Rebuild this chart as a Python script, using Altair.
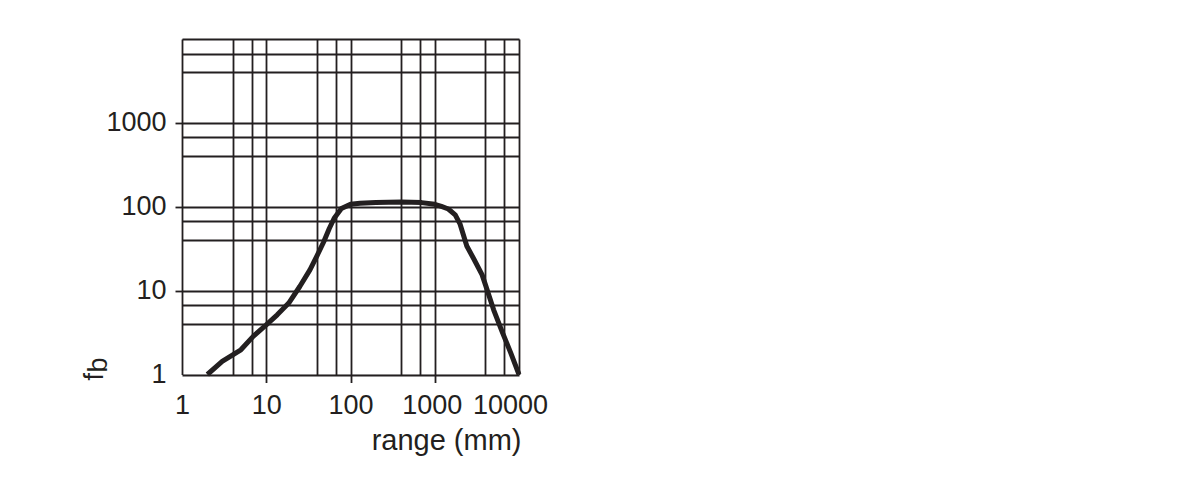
import altair as alt
import pandas as pd

# curve
range_mm = [2, 3, 5, 7, 10, 13.5, 18.5, 25, 33, 40, 48, 56, 64, 78, 100, 130, 200, 400,
            700, 1000, 1200, 1450, 1750, 2000, 2400, 2900, 3650, 4000, 5000, 6300, 8000, 10000]
fb = [1, 1.43, 1.97, 2.85, 3.9, 5.15, 7.1, 11.2, 17.7, 26, 38, 55, 73, 95, 107, 110, 112, 114,
      112, 107, 101, 94, 80, 62, 34, 24, 15.4, 11.7, 5.9, 3.25, 1.8, 1]

# grid lines and labels
grid_x = [1, 4, 6.7, 10, 40, 67, 100, 400, 670, 1000, 4000, 6700, 10000]
grid_y = [1, 4, 6.7, 10, 40, 67, 100, 400, 670, 1000, 4000, 6700, 10000]
labels_x = [1, 10, 100, 1000, 10000]
labels_y = [1, 10, 100, 1000]
major_ticks = [10, 100, 1000]

INK = "#231f20"
FONT = "Liberation Sans"
FS = 27
TFS = 29

df = pd.DataFrame({"range": range_mm, "fb": fb})


def arr(v):
    return "[" + ",".join(str(x) for x in v) + "]"


tick_op = {"condition": {"test": f"indexof({arr(major_ticks)}, datum.value) >= 0", "value": 1}, "value": 0}

x_axis = alt.Axis(
    values=grid_x, grid=True, domain=False,
    gridColor=INK, gridWidth=1.8, gridOpacity=1,
    tickSize=8, tickColor=INK, tickWidth=1.8, tickOpacity=tick_op,
    labelExpr=f"indexof({arr(labels_x)}, datum.value) >= 0 ? '' + datum.value : ''",
    labelFont=FONT, labelFontSize=FS, labelColor=INK, labelPadding=10,
    labelFlush=False, labelOverlap=False, labelBound=False,
    labelOffset={"condition": [{"test": "datum.value == 10000", "value": -9},
                               {"test": "datum.value == 1000", "value": -3}], "value": 0},
    title="range (mm)", titleFont=FONT, titleFontSize=TFS, titleFontWeight="normal",
    titleColor=INK, titleAlign="right", titleBaseline="alphabetic",
    titleX=339, titleY=74.5,
)

y_axis = alt.Axis(
    values=grid_y, grid=True, domain=False,
    gridColor=INK, gridWidth=1.8, gridOpacity=1,
    tickSize=7, tickColor=INK, tickWidth=1.8, tickOpacity=tick_op,
    labelExpr=f"indexof({arr(labels_y)}, datum.value) >= 0 ? '' + datum.value : ''",
    labelFont=FONT, labelFontSize=FS, labelColor=INK, labelPadding=9,
    labelFlush=False, labelOverlap=False, labelBound=False,
    title="f", titleFont=FONT, titleFontSize=FS, titleFontWeight="normal",
    titleColor=INK, titleAngle=270, titleAlign="left", titleBaseline="alphabetic",
    titleX=-80, titleY=341,
)

curve = alt.Chart(df).mark_line(color=INK, strokeWidth=5, strokeJoin="round").encode(
    x=alt.X("range:Q", scale=alt.Scale(type="log", domain=[1, 10000], nice=False), axis=x_axis),
    y=alt.Y("fb:Q", scale=alt.Scale(type="log", domain=[1, 10000], nice=False), axis=y_axis),
)

sub_b = alt.Chart(pd.DataFrame({"t": ["b"]})).mark_text(
    font=FONT, fontSize=FS, color=INK, angle=270, align="left", baseline="alphabetic"
).encode(x=alt.value(-75.5), y=alt.value(333.5), text="t:N")

chart = alt.layer(curve, sub_b).properties(
    width=337, height=335.5,
    autosize=alt.AutoSizeParams(type="none"),
    padding={"left": 174, "top": 31, "right": 670, "bottom": 100},
).configure_view(stroke=None).configure(background="white")

chart.save("out.html", embed_options={"renderer": "svg", "actions": False})
